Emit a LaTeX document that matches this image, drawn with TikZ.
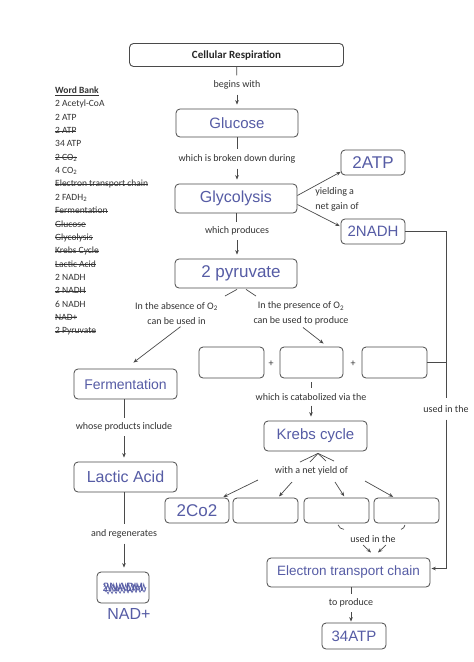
\documentclass[tikz,border=0pt]{standalone}
\usepackage{fontspec}
\setmainfont{Carlito}
\newfontfamily\handfont{Liberation Sans}
\usetikzlibrary{arrows.meta,decorations.pathmorphing}
\definecolor{linec}{HTML}{4A4A4A}
\definecolor{labc}{HTML}{333333}
\definecolor{handc}{RGB}{86,92,165}
\newcommand\hw[1]{\fontsize{#1}{#1}\selectfont\handfont\color{handc}}
\newcommand\labfont{\fontsize{10}{15}\selectfont}
\newsavebox\sbx
\newcommand\stk[1]{\sbox\sbx{#1}\rlap{\usebox\sbx}\rule[0.26em]{\wd\sbx}{0.55pt}}
\newcommand\ulbox[1]{\sbox\sbx{#1}\rlap{\usebox\sbx}\rule[-1.8pt]{\wd\sbx}{0.55pt}}
\begin{document}
\begin{tikzpicture}[x=1pt,y=-1pt,
 box/.style={draw=linec, line width=0.8pt, rounded corners=4pt, inner sep=1pt},
 lab/.style={text=labc, font=\labfont, align=center, inner xsep=2pt, inner ysep=5pt},
 ln/.style={draw=linec, line width=0.7pt},
 arr/.style={ln, -{Stealth[length=4.5pt,width=3.6pt]}, shorten >=4pt},
 wb/.style={text=labc, font=\fontsize{9.5}{12}\selectfont, anchor=base west, inner sep=0pt},
]
\fill[white] (0,0) rectangle (474,662);
\useasboundingbox (0,0) rectangle (474,662);

% word bank
\foreach \t [count=\i from 0] in {{\ulbox{\textbf{Word Bank}}},{2 Acetyl-CoA},{2 ATP},{\stk{2 ATP}},{34 ATP},{\stk{2 CO\textsubscript{2}}},{4 CO\textsubscript{2}},{\stk{Electron transport chain}},{2 FADH\textsubscript{2}},{\stk{Fermentation}},{\stk{Glucose}},{\stk{Glycolysis}},{\stk{Krebs Cycle}},{\stk{Lactic Acid}},{2 NADH},{\stk{2 NADH}},{6 NADH},{\stk{NAD+}},{\stk{2 Pyruvate}}}
  \node[wb] (wb\i) at (55, 93.5+13.35*\i) {\t};

% main column
\node[box, line width=0.9pt, minimum width=214pt, minimum height=23pt, font=\bfseries\fontsize{11}{13}\selectfont, text=black!85] (title) at (236.5,55) {Cellular Respiration};
\node[lab] (lbeg) at (237,85) {begins with};
\node[box, minimum width=122pt, minimum height=28pt] (glu) at (237,123) {\hw{15}Glucose\hspace{20pt}};
\node[lab] (lbrk) at (237,159) {which is broken down during};
\node[box, minimum width=122pt, minimum height=29pt] (gly) at (236,198.5) {\hw{16}Glycolysis\hspace{8pt}};
\node[box, minimum width=64pt, minimum height=25pt] (atp) at (373,162.5) {\hw{17}2ATP};
\node[box, minimum width=64pt, minimum height=25pt] (nadh) at (373,231.5) {\hw{15}2NADH};
\node[lab, align=left, inner sep=1pt] (lyld) at (337,199) {yielding a\\net gain of};
\node[lab] (lprod) at (237,231) {which produces};
\node[box, minimum width=122pt, minimum height=29pt] (pyr) at (236,273.5) {\hspace{10pt}\hw{17}2 pyruvate};
\node[lab, inner ysep=2pt] (labs) at (176.5,313.5) {In the absence of O\textsubscript{2}\\can be used in};
\node[lab, inner ysep=2pt] (lpres) at (301,313.5) {In the presence of O\textsubscript{2}\\can be used to produce};

% three product boxes
\node[box, minimum width=65pt, minimum height=31pt] (bx1) at (231.5,362.5) {};
\node[box, minimum width=63pt, minimum height=31pt] (bx2) at (311.5,362.5) {};
\node[box, minimum width=65pt, minimum height=31pt] (bx3) at (394.5,362.5) {};
\node[text=labc, font=\labfont, inner sep=0pt] (pl1) at (271,364) {+};
\node[text=labc, font=\labfont, inner sep=0pt] (pl2) at (353,364) {+};
\node[lab] (lcat) at (311,397) {which is catabolized via the};
\node[box, minimum width=103pt, minimum height=30pt] (krebs) at (315.5,436) {\hw{15}Krebs cycle};
\node[lab] (lnet) at (311.5,471) {with a net yield of};

\node[box, minimum width=64pt, minimum height=25pt] (ya) at (197,510.5) {\hw{17}2Co2\hspace{18pt}};
\node[box, minimum width=65pt, minimum height=25pt] (yb) at (265.5,510.5) {};
\node[box, minimum width=65pt, minimum height=25pt] (yc) at (336.5,510.5) {};
\node[box, minimum width=65pt, minimum height=25pt] (yd) at (406.5,510.5) {};
\node[lab] (lused) at (373,539) {used in the};
\node[box, minimum width=163pt, minimum height=29pt] (etc) at (348.5,572.5) {\hw{13.5}Electron transport chain};
\node[lab] (lto) at (351,603) {to produce};
\node[box, minimum width=64pt, minimum height=26pt] (atp34) at (354,636) {\hw{15}34ATP};
\node[lab, inner ysep=7pt] (lusedR) at (446,409) {used in the};

% left column
\node[box, minimum width=103pt, minimum height=30pt] (ferm) at (125.5,384) {\hw{14}Fermentation};
\node[lab] (lwhose) at (124,427) {whose products include};
\node[box, minimum width=103pt, minimum height=30pt] (lac) at (125.5,477) {\hw{16}Lactic Acid};
\node[lab] (lregen) at (124,534) {and regenerates};
\node[box, minimum width=52pt, minimum height=31pt] (nad) at (123,587.5) {\hw{12}2NADH};
\draw[handc, line width=0.7pt, decorate, decoration={zigzag, segment length=3pt, amplitude=3pt}] (104,587) -- (146,587);
\draw[handc, line width=0.6pt, decorate, decoration={zigzag, segment length=4pt, amplitude=2pt}] (105,592) -- (145,590);
\node[inner sep=0pt] (nadp) at (129,614) {\hw{16}NAD+};

% connectors main column
\draw[ln] (title) -- (lbeg);
\draw[arr] (lbeg.south) -- (lbeg.south |- glu.north);
\draw[ln] (glu.south) -- (glu.south |- lbrk.north);
\draw[arr] (lbrk.south) -- (lbrk.south |- gly.north);
\draw[arr, shorten >=1pt] ([yshift=3pt]gly.east) -- ([yshift=4pt,xshift=1pt]atp.south west);
\draw[arr, shorten >=1pt] ([yshift=-6pt]gly.east) -- ([yshift=5pt]nadh.west);
\draw[ln] (gly.south) -- (gly.south |- lprod.north);
\draw[arr] (lprod.south) -- (lprod.south |- pyr.north);

\coordinate (brl) at (225,296);
\coordinate (brr) at (256,296);
\draw[ln] ([xshift=1pt,yshift=-1pt]pyr.south) -- (brl);
\draw[ln] ([xshift=10pt,yshift=-1pt]pyr.south) -- (brr);
\draw[arr, shorten >=10pt] ([xshift=4pt]labs.south) -- (ferm.north);
\draw[arr, shorten >=5pt] ([xshift=2pt]lpres.south) -- ([xshift=16pt]bx2.north);

\draw[ln, shorten <=4pt] (bx2.south) -- (bx2.south |- lcat.north);
\draw[arr] (lcat.south) -- (lcat.south |- krebs.north);

\coordinate (f1) at (300,462);
\coordinate (f2) at (310,462);
\coordinate (f3) at (326,461);
\coordinate (f4) at (334,461);
\foreach \f in {f1,f2,f3,f4}
  \draw[ln] ([xshift=2.5pt,yshift=-2pt]krebs.south) -- (\f);

\coordinate (n1) at (258,480);
\coordinate (n2) at (292,482);
\coordinate (n3) at (335,482);
\coordinate (n4) at (365,481);
\draw[arr, shorten >=1.5pt] (n1) -- ([xshift=25pt]ya.north);
\draw[arr, shorten >=1.5pt] (n2) -- ([xshift=12.5pt]yb.north);
\draw[arr, shorten >=1.5pt] (n3) -- ([xshift=8.5pt]yc.north);
\draw[arr, shorten >=1.5pt] (n4) -- ([xshift=-12pt]yd.north);

\draw[ln] ([xshift=1.5pt,yshift=-1.5pt]yc.south) to[bend right=30] ++(6,4.5);
\draw[ln] ([xshift=-1.5pt,yshift=-1.5pt]yd.south) to[bend left=30] ++(-4,4.5);
\coordinate (u1) at (363,545);
\coordinate (u1e) at (371,552.5);
\coordinate (u2) at (386,545);
\coordinate (u2e) at (378,552.5);
\draw[arr, shorten >=0pt] (u1) -- (u1e);
\draw[arr, shorten >=0pt] (u2) -- (u2e);

\draw[ln] (etc.south -| lto.north) -- (lto.north);
\draw[arr, shorten >=1pt] (lto.south) -- (lto.south |- atp34.north);

% right feed line
\draw[ln] (nadh.east) -| (lusedR.north);
\draw[arr, shorten >=1pt] (lusedR.south) |- ([yshift=4pt]etc.east);
\draw[ln] (bx3.east) -- (bx3.east -| lusedR.north);

% left column connectors
\draw[ln] (ferm.south -| lwhose.north) -- (lwhose.north);
\draw[arr] (lwhose.south) -- (lwhose.south |- lac.north);
\draw[ln] (lac.south -| lregen.north) -- (lregen.north);
\draw[arr] (lregen.south) -- (lregen.south |- nad.north);
\end{tikzpicture}
\end{document}
